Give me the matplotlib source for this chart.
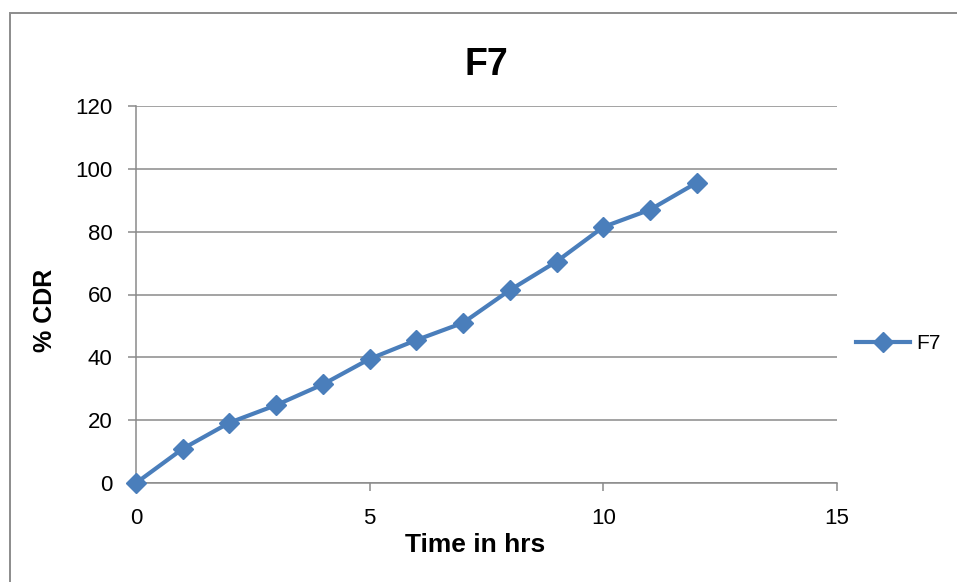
import matplotlib
matplotlib.use("Agg")
import matplotlib.pyplot as plt
from matplotlib.patches import Rectangle

# Cumulative drug release for formulation F7
time_hrs = [0, 1, 2, 3, 4, 5, 6, 7, 8, 9, 10, 11, 12]
cdr_pct = [0, 10.9, 19.2, 24.8, 31.4, 39.5, 45.5, 51.0, 61.4, 70.5, 81.5, 87.0, 95.6]
series_name = "F7"
chart_title = "F7"
x_ticks = [0, 5, 10, 15]
y_ticks = [0, 20, 40, 60, 80, 100, 120]

plt.rcParams["font.family"] = ["Liberation Sans", "DejaVu Sans"]

W, H = 957, 582
fig = plt.figure(figsize=(W / 100, H / 100), dpi=100)
fig.patch.set_facecolor("white")

# chart-area frame
fig.patches.append(Rectangle((9.5 / W, -0.05), 1.2, 1 - 12.7 / H + 0.05,
                             transform=fig.transFigure, fill=False,
                             edgecolor="#8c8c8c", linewidth=1.4))

ax_l, ax_r, ax_t, ax_b = 136, 837, 106, 483
ax = fig.add_axes([ax_l / W, 1 - ax_b / H, (ax_r - ax_l) / W, (ax_b - ax_t) / H])
grid_c = "#8a8a8a"
ax.set_xlim(0, 15)
ax.set_ylim(0, 120)
ax.set_xticks(x_ticks)
ax.set_yticks(y_ticks)
ax.yaxis.grid(True, color=grid_c, linewidth=1.1)
ax.set_axisbelow(True)
for side in ("top", "right"):
    ax.spines[side].set_visible(False)
for side in ("left", "bottom"):
    ax.spines[side].set_color(grid_c)
    ax.spines[side].set_linewidth(1.1)
ax.tick_params(axis="both", direction="out", length=6, width=1.1, color=grid_c,
               labelsize=16)
ax.tick_params(axis="x", pad=12)
ax.tick_params(axis="y", pad=11)

blue = "#4a7ebb"
ax.plot(time_hrs, cdr_pct, color=blue, linewidth=3, marker="D", markersize=10,
        markerfacecolor=blue, markeredgecolor=blue, label=series_name,
        clip_on=False, zorder=3)

ax.set_title(chart_title, fontsize=27, fontweight="bold", pad=22)
ax.set_xlabel("Time in hrs", fontsize=19, fontweight="bold", va="center")
ax.set_ylabel("% CDR", fontsize=18, fontweight="bold", va="center")
pw, ph = ax_r - ax_l, ax_b - ax_t
ax.xaxis.set_label_coords((475 - ax_l) / pw, (ax_b - 545) / ph)
ax.yaxis.set_label_coords((45 - ax_l) / pw, (ax_b - 310) / ph)

leg = ax.legend(loc="center left", bbox_to_anchor=(1.0, 0.37), frameon=False,
                fontsize=15, handlelength=2.6, handletextpad=0.3)

fig.savefig("out.png", dpi=100)
